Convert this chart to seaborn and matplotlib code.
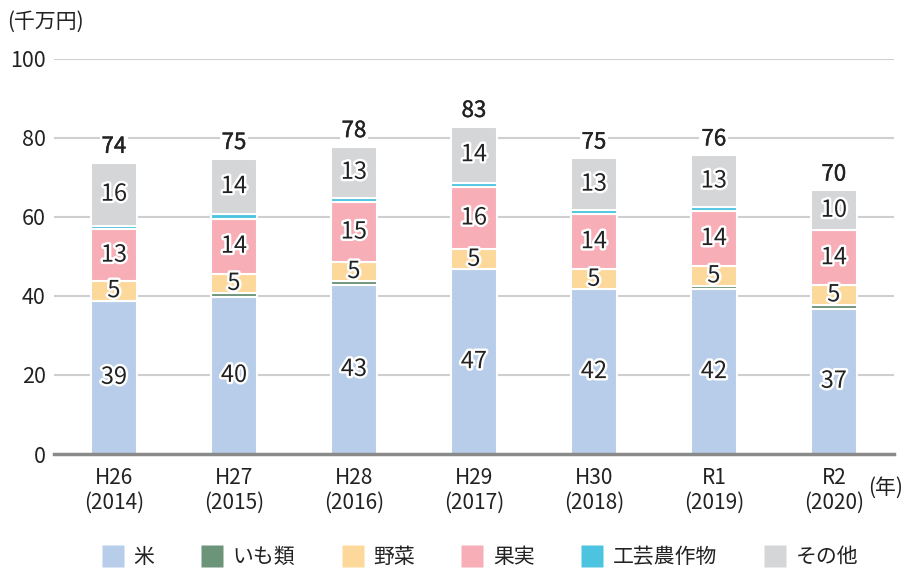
import matplotlib
matplotlib.use("Agg")
import matplotlib.pyplot as plt
import matplotlib.patheffects as pe
from matplotlib.lines import Line2D
import seaborn as sns
import numpy as np
import pandas as pd

years = ["H26\n(2014)", "H27\n(2015)", "H28\n(2016)", "H29\n(2017)", "H30\n(2018)", "R1\n(2019)", "R2\n(2020)"]
rice = [38.8, 39.8, 42.8, 46.7, 41.7, 41.7, 36.8]
potato = [0.0, 0.9, 0.9, 0.0, 0.0, 0.9, 1.0]
vegetables = [5.0, 4.9, 4.9, 5.1, 5.0, 4.9, 4.9]
fruit = [13.0, 13.9, 15.1, 15.8, 14.0, 14.0, 13.9]
industrial = [0.9, 1.1, 1.1, 1.0, 1.0, 1.0, 0.0]
other = [16.0, 14.1, 12.9, 14.2, 13.1, 13.1, 10.1]
totals = [74, 75, 78, 83, 75, 76, 70]

series_names = ["米", "いも類", "野菜", "果実", "工芸農作物", "その他"]
series_vals = [rice, potato, vegetables, fruit, industrial, other]
colors = ["#b7cde9", "#6b9479", "#fdd89b", "#f7aeb7", "#4cc4e0", "#d5d6d8"]
labeled = {"米", "野菜", "果実", "その他"}

sns.set_theme(style="white")
plt.rcParams["font.family"] = ["Noto Sans CJK JP", "DejaVu Sans"]
txt = "#222222"

fig = plt.figure(figsize=(9.07, 5.75), dpi=100)
ax = fig.add_axes([0.0595, 0.2104, 0.926, 0.6876])

ax.set_axisbelow(True)
for v in [20, 40, 60, 80, 100]:
    ax.axhline(v, color="#cfcfcf", lw=1.5, zorder=0)

bottom = np.zeros(len(years))
for name, vals, col in zip(series_names, series_vals, colors):
    df = pd.DataFrame({"year": years, "value": vals})
    sns.barplot(data=df, x="year", y="value", order=years, color=col,
                saturation=1, bottom=bottom.copy(), width=0.385,
                edgecolor="white", linewidth=1.5, ax=ax, zorder=2,
                errorbar=None)
    if name in labeled:
        for i, v in enumerate(vals):
            t = ax.text(i, bottom[i] + v / 2, f"{round(v):d}", ha="center", va="center",
                        fontsize=17, color=txt, zorder=5)
            t.set_path_effects([pe.withStroke(linewidth=3.5, foreground="white")])
    bottom = bottom + np.array(vals)

for i, tot in enumerate(totals):
    t = ax.text(i, bottom[i] + 1.2, str(tot), ha="center", va="bottom",
                fontsize=16, color=txt, zorder=5,
                bbox=dict(facecolor="white", edgecolor="none", pad=1.5))
    t.set_path_effects([pe.withStroke(linewidth=0.3, foreground=txt)])

ax.set_ylim(0, 100)
ax.set_xlim(-0.5, 6.5)
ax.set_yticks([0, 20, 40, 60, 80, 100])
ax.tick_params(axis="y", length=0, labelsize=15.5, colors=txt, pad=6)
ax.tick_params(axis="x", length=0, labelsize=15, colors=txt, pad=9)
ax.set_xlabel("")
ax.set_ylabel("")
for s in ["top", "right", "left"]:
    ax.spines[s].set_visible(False)
ax.spines["bottom"].set_color("#8a8a8a")
ax.spines["bottom"].set_linewidth(2.5)
ax.spines["bottom"].set_zorder(6)

fig.text(0.008, 0.962, "(千万円)", fontsize=15, color=txt, ha="left", va="center")
fig.text(0.957, 0.152, "(年)", fontsize=15, color=txt, ha="left", va="center")

handles = [Line2D([], [], marker="s", linestyle="none", markersize=16,
                  markerfacecolor=c, markeredgecolor="none") for c in colors]
fig.legend(handles, series_names, loc="center", bbox_to_anchor=(0.529, 0.031),
           ncol=6, frameon=False, fontsize=15, handlelength=1.1,
           columnspacing=2.2, handletextpad=0.45, labelcolor=txt)

fig.savefig("out.png", dpi=100)
